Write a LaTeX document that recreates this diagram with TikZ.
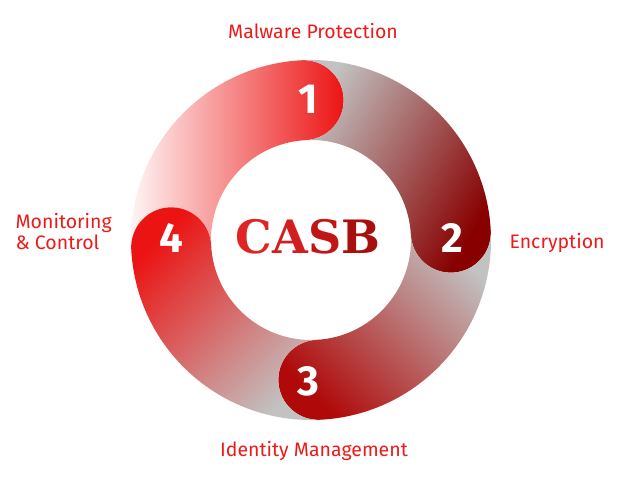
\documentclass[tikz,border=0pt]{standalone}
\usepackage{fontspec}
\setmainfont{Fira Sans}
\newfontfamily\slabfont{DejaVu Serif}

\definecolor{labelred}{HTML}{EE1A1A}
\definecolor{capred}{HTML}{EC1313}
\definecolor{darkcap}{HTML}{880000}
\definecolor{botcap}{HTML}{B00909}
\definecolor{ringgray}{HTML}{C2C2C2}

% ring: center c, outer/inner radius, cap radius
\def\Ro{180pt}
\def\Ri{100pt}
\def\Rw{40pt}
% one segment from angle #1 clockwise to #2, round head at #2, notch at #1
\newcommand{\ringseg}[2]{([shift={(#1:\Ro)}]c)
  arc[start angle=#1, end angle=#2, radius=\Ro]
  arc[start angle=#2, end angle=#2-180, radius=\Rw]
  arc[start angle=#2, end angle=#1, radius=\Ri]
  arc[start angle=#1-180, end angle=#1, radius=\Rw] -- cycle}

\begin{document}
\begin{tikzpicture}[x=1pt, y=1pt,
    steplabel/.style={text=labelred, font=\fontsize{19.5}{21}\selectfont},
    stepnum/.style={text=white, font=\fontsize{42}{44}\selectfont\bfseries}]

    % --- Rahmen ---
    \useasboundingbox (0,0) rectangle (640,480);
    \coordinate (c) at (311,240);

    % --- Ringsegmente ---
    \shade[left color=red!2, right color=capred] \ringseg{183}{93};
    \shade[top color=ringgray, bottom color=darkcap, shading angle=60] \ringseg{93}{3};
    \shade[top color=ringgray, bottom color=botcap, shading angle=-45] \ringseg{3}{-87};
    \shade[top color=capred, bottom color=ringgray, shading angle=45] \ringseg{273}{183};

    % --- Nummern ---
    \node[stepnum] (n1) at (308,381) {1};
    \node[stepnum] (n2) at (452,242) {2};
    \node[stepnum] (n3) at (308,99) {3};
    \node[stepnum] (n4) at (171,242) {4};

    % --- Mitte ---
    \node[font=\slabfont\fontsize{46}{48}\selectfont\bfseries] (casb) at (308,243)
        {\color[HTML]{E02424}C\color[HTML]{D21E1E}A\color[HTML]{C01616}S\color[HTML]{A81010}B};

    % --- Beschriftungen ---
    \node[steplabel] (malware) at (313,449) {Malware Protection};
    \node[steplabel, anchor=west] (encrypt) at (506,237) {Encryption};
    \node[steplabel] (identity) at (314,29) {Identity Management};
    \node[steplabel, anchor=west, align=left] (monitor) at (12,248)
        {Monitoring\\\& Control};

\end{tikzpicture}
\end{document}
